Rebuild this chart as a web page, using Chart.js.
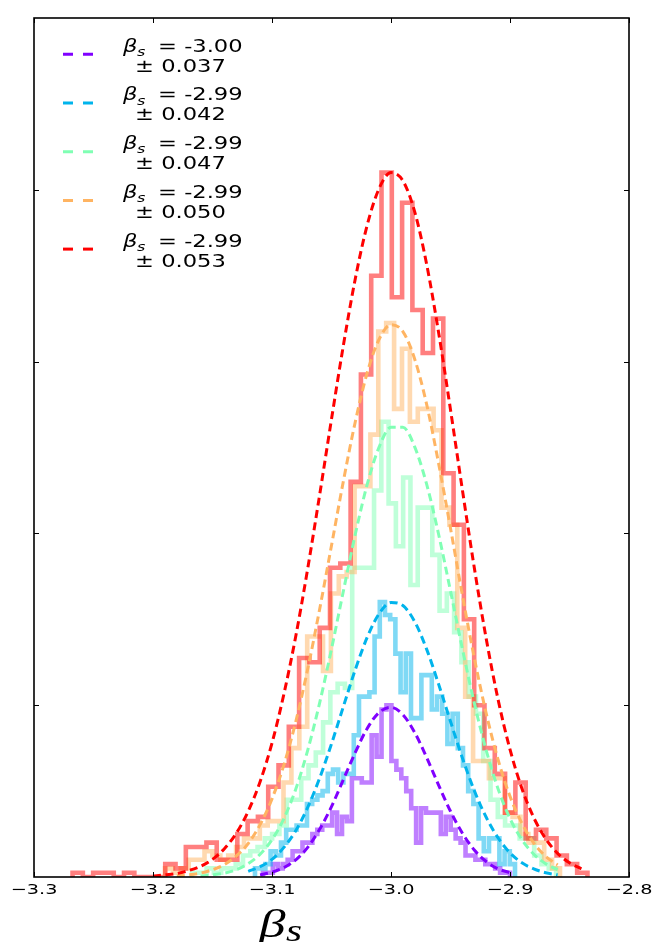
<!DOCTYPE html>
<html>
<head>
<meta charset="utf-8">
<script src="https://cdn.jsdelivr.net/npm/chart.js@4.4.1/dist/chart.umd.min.js"></script>
<style>
  html, body { margin: 0; padding: 0; background: #fff; }
  canvas { display: block; }
</style>
</head>
<body>
<canvas id="betaChart" width="654" height="942"></canvas>
<script>
// axis ticks (y ticks carry no labels in the original)
const xTicks = [-3.3, -3.2, -3.1, -3.0, -2.9, -2.8];
const yTicks = [40, 80, 120, 160];

// legend text
const legendMeans = ['-3.00', '-2.99', '-2.99', '-2.99', '-2.99'];
const legendErrs = ['0.037', '0.042', '0.047', '0.050', '0.053'];

// histograms: first / last bin edge, 50 bins each, counts
const purpleRange = [-3.1076, -2.9000];
const purpleCounts = [1,1,3,2,3,4,6,6,8,8, 10,11,12,12,15,10,14,13,23,23,
  22,22,33,28,39,40,27,25,23,20, 16,8,16,15,15,15,10,14,11,9, 8,5,5,4,4,3,3,2,1,1];

const blueRange = [-3.1143, -2.8958];
const blueCounts = [2,2,3,6,5,8,11,11,12,12, 17,18,19,20,24,25,22,24,24,33,
  42,42,43,56,64,61,60,52,43,52, 37,37,47,47,39,42,38,31,38,30, 26,20,17,9,6,9,9,3,6,3];

const greenRange = [-3.1672, -2.8613];
const greenCounts = [1,1,2,1,2,2,3,5,6,7, 9,10,12,18,18,23,26,29,36,43,
  45,44,72,72,72,90,106,87,77,93, 68,86,86,75,62,66,57,50,42,38, 27,18,14,12,12,9,9,5,3,2];

const orangeRange = [-3.1899, -2.8580];
const orangeCounts = [2,1,2,4,4,6,5,4,5,7, 9,9,12,13,13,22,30,35,56,56,
  48,66,70,71,91,91,103,127,129,109, 123,106,109,109,104,86,82,58,42,27, 27,23,23,15,14,10,8,8,4,2];

const redRange = [-3.2676, -2.8349];
const redCounts = [1,0,1,1,0,1,0,0,0,3, 2,7,7,8,4,4,10,13,14,21,
  26,35,51,50,58,72,73,92,117,140, 164,135,157,132,122,130,94,82,60,40, 30,24,15,22,9,11,9,5,3,1];

// fitted curves, sampled every 0.01 from the given start
const purpleCurveStart = -3.11;
const purpleCurve = [0.5,1.1,2.2,4.0,6.9,11.1,16.4,22.7,29.0,34.6,38.3,39.5,37.8,33.6,27.8,
  21.4,15.3,10.2,6.3,3.6,1.9,1.0];

const blueCurveStart = -3.12;
const blueCurve = [1.3,2.4,4.1,6.9,10.8,16.2,23.0,31.0,39.7,48.3,55.8,61.3,63.9,63.2,59.4,
  53.0,44.9,36.2,27.7,20.1,13.9,9.1,5.6,3.3,1.9,1.0,0.5];

const greenCurveStart = -3.16;
const greenCurve = [0.2,0.5,0.9,1.7,3.1,5.3,8.7,13.6,20.5,29.5,40.5,53.1,66.6,79.8,91.4,100.1,
  104.7,104.7,100.1,91.4,79.8,66.6,53.1,40.5,29.5,20.5,13.6,8.7,5.3,3.1,1.7];

const orangeCurveStart = -3.18;
const orangeCurve = [0.3,0.5,0.9,1.7,2.9,4.9,7.8,12.2,18.2,26.1,36.2,48.4,62.3,77.2,92.2,106.0,
  117.4,125.2,128.6,127.0,120.5,110.0,96.3,81.2,65.6,51.0,38.1,27.3,18.8,12.5,7.9,4.8,2.8];

const redCurveStart = -3.20;
const redCurve = [0.2,0.5,0.8,1.5,2.5,4.1,6.6,10.2,15.3,22.2,31.2,42.6,56.1,71.8,88.9,106.6,
  123.8,139.3,151.8,160.3,164.0,162.1,154.8,142.6,126.8,108.8,90.1,72.0,55.5,41.3,29.7,20.6,
  13.8,8.9,5.5,3.3,1.9];

// rainbow colour map picks
const purpleRGB = '128,0,255';
const blueRGB = '0,180,236';
const greenRGB = '128,255,180';
const orangeRGB = '255,180,98';
const redRGB = '255,0,0';

function histPoints(counts, range) {
  const n = counts.length;
  const w = (range[1] - range[0]) / n;
  const pts = [{ x: range[0], y: 0 }];
  counts.forEach((c, i) => pts.push({ x: range[0] + i * w, y: c }));
  pts.push({ x: range[1], y: 0 });
  return pts;
}

function curvePoints(start, values) {
  return values.map((v, i) => ({ x: +(start + i * 0.01).toFixed(2), y: v }));
}

function histSet(counts, range, rgb, order) {
  return {
    data: histPoints(counts, range),
    stepped: 'before',
    borderColor: 'rgba(' + rgb + ',0.5)',
    borderWidth: 4.6,
    borderJoinStyle: 'miter',
    pointRadius: 0,
    fill: false,
    order: order
  };
}

function curveSet(start, values, rgb, order) {
  return {
    data: curvePoints(start, values),
    cubicInterpolationMode: 'monotone',
    borderColor: 'rgb(' + rgb + ')',
    borderWidth: 3,
    borderDash: [8, 4.5],
    pointRadius: 0,
    fill: false,
    order: order
  };
}

const SX = 1.33; // the reference picture is stretched sideways

function stretchedText(ctx, txt, x, y, font, align) {
  ctx.save();
  ctx.font = font;
  ctx.textAlign = align || 'left';
  ctx.textBaseline = 'alphabetic';
  ctx.fillStyle = '#000';
  ctx.translate(x, y);
  ctx.scale(SX, 1);
  ctx.fillText(txt, 0, 0);
  ctx.restore();
}

const legendColours = [purpleRGB, blueRGB, greenRGB, orangeRGB, redRGB];

const framePlugin = {
  id: 'frame',
  afterDraw(chart) {
    const ctx = chart.ctx;
    const a = chart.chartArea;
    const xs = chart.scales.x, ys = chart.scales.y;
    ctx.save();
    ctx.strokeStyle = '#000';
    ctx.lineWidth = 1.6;
    ctx.strokeRect(a.left, a.top, a.right - a.left, a.bottom - a.top);

    ctx.lineWidth = 1;
    ctx.beginPath();
    xTicks.forEach(v => {
      const px = Math.round(xs.getPixelForValue(v)) + 0.5;
      ctx.moveTo(px, a.bottom); ctx.lineTo(px, a.bottom - 5);
      ctx.moveTo(px, a.top); ctx.lineTo(px, a.top + 5);
    });
    yTicks.forEach(v => {
      const py = Math.round(ys.getPixelForValue(v)) + 0.5;
      ctx.moveTo(a.left, py); ctx.lineTo(a.left + 5, py);
      ctx.moveTo(a.right, py); ctx.lineTo(a.right - 5, py);
    });
    ctx.stroke();

    // x tick labels
    xTicks.forEach(v => {
      const txt = (v < 0 ? '\u2212' : '') + Math.abs(v).toFixed(1);
      stretchedText(ctx, txt, xs.getPixelForValue(v), a.bottom + 17, '14.5px "DejaVu Sans"', 'center');
    });

    // axis title
    stretchedText(ctx, '\u03b2', 259, 937, 'italic 40px "Liberation Serif"');
    stretchedText(ctx, 's', 286, 941, 'italic 31px "Liberation Serif"');

    // legend
    legendMeans.forEach((m, k) => {
      const yy = 54.3 + 48.7 * k;
      ctx.save();
      ctx.strokeStyle = 'rgb(' + legendColours[k] + ')';
      ctx.lineWidth = 3;
      ctx.setLineDash([10, 10]);
      ctx.beginPath();
      ctx.moveTo(63, yy); ctx.lineTo(94, yy);
      ctx.stroke();
      ctx.restore();
      stretchedText(ctx, '\u03b2', 123, yy - 2.6, 'italic 17px "DejaVu Sans"');
      stretchedText(ctx, 's', 137, yy + 1.5, 'italic 12px "DejaVu Sans"');
      stretchedText(ctx, '= ' + m, 158, yy - 2.6, '17px "DejaVu Sans"');
      stretchedText(ctx, '\u00b1 ' + legendErrs[k], 135, yy + 17.4, '17px "DejaVu Sans"');
    });
    ctx.restore();
  }
};

new Chart('betaChart', {
  type: 'line',
  data: {
    datasets: [
      curveSet(redCurveStart, redCurve, redRGB, 0),
      curveSet(orangeCurveStart, orangeCurve, orangeRGB, 1),
      curveSet(greenCurveStart, greenCurve, greenRGB, 2),
      curveSet(blueCurveStart, blueCurve, blueRGB, 3),
      curveSet(purpleCurveStart, purpleCurve, purpleRGB, 4),
      histSet(redCounts, redRange, redRGB, 5),
      histSet(orangeCounts, orangeRange, orangeRGB, 6),
      histSet(greenCounts, greenRange, greenRGB, 7),
      histSet(blueCounts, blueRange, blueRGB, 8),
      histSet(purpleCounts, purpleRange, purpleRGB, 9)
    ]
  },
  options: {
    responsive: false,
    animation: false,
    layout: { padding: { left: 0, right: 25, top: 18, bottom: 0 } },
    scales: {
      x: {
        type: 'linear', min: -3.3, max: -2.8,
        ticks: { display: false, stepSize: 0.1 },
        grid: { display: false }, border: { display: false },
        afterFit(s) { s.height = 65; }
      },
      y: {
        min: 0, max: 200,
        ticks: { display: false, stepSize: 40 },
        grid: { display: false }, border: { display: false },
        afterFit(s) { s.width = 34; }
      }
    },
    plugins: { legend: { display: false }, tooltip: { enabled: false } }
  },
  plugins: [framePlugin]
});
</script>
</body>
</html>
